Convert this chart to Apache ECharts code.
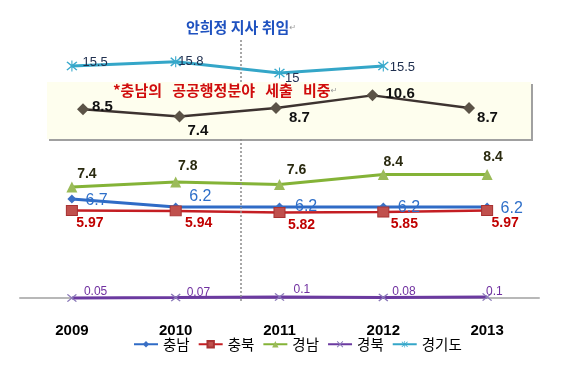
<!DOCTYPE html>
<html>
<head>
<meta charset="utf-8">
<script src="https://cdn.jsdelivr.net/npm/echarts@6/dist/echarts.min.js"></script>
<style>
html,body{margin:0;padding:0;background:#fff;}
#chart{width:567px;height:372px;}
</style>
</head>
<body>
<div id="chart"></div>
<script>
// ---------- data ----------
const years = ['2009', '2010', '2011', '2012', '2013'];
const chungnam = [6.7, 6.2, 6.2, 6.2, 6.2];          // 충남
const chungbuk = [5.97, 5.94, 5.82, 5.85, 5.97];     // 충북
const gyeongnam = [7.4, 7.8, 7.6, 8.4, 8.4];         // 경남
const gyeongbuk = [0.05, 0.07, 0.1, 0.08, 0.1];      // 경북
const gyeonggi = [15.5, 15.8, 15, 15.5, null];       // 경기도
const chungnamPublic = [8.5, 7.4, 8.7, 10.6, 8.7];   // 충남의 공공행정분야 세출 비중
const seriesNames = ['충남', '충북', '경남', '경북', '경기도'];
const titleText = '안희정 지사 취임';
const insetText = '*충남의   공공행정분야   세출   비중';
const inaugurationPos = 1.63; // between 2010 and 2011 (category index)

// ---------- styling (label nudges per point) ----------
const offs = {
  chungnam: [[6, 2], [6, -10], [8, 0], [7, 1], [6, 2]],
  chungbuk: [[18, 0], [23, 0], [22, 0], [21, 0], [18, 0]],
  gyeongnam: [[15, 2], [12, -1], [17, 0], [10, 2], [6, -3]],
  gyeongbuk: [[5, -6], [4, -5], [7, -7], [2, -6], [-8, -5]],
  gyeonggi: [[2, -4], [-6, 0], [-3, 5], [-2, 1], [0, 0]],
  public: [[0, -2], [-1, 14], [4, 10], [4, -2], [-1, 10]]
};
const X_PATH = 'path://M1,0L5,4L9,0L10,1L6,5L10,9L9,10L5,6L1,10L0,9L4,5L0,1Z';
const STAR_PATH = 'path://M1,0L4.5,3.5L4.5,-1L5.5,-1L5.5,3.5L9,0L10,1L6,5L10,9L9,10L5.5,6.5L5.5,11L4.5,11L4.5,6.5L1,10L0,9L4,5L0,1Z';

function pts(values, o) {
  return values.map((v, i) => v == null ? '-' : { value: v, label: { offset: o[i] } });
}

const chart = echarts.init(document.getElementById('chart'), null, { renderer: 'canvas' });

const option = {
  animation: false,
  backgroundColor: '#ffffff',
  title: [
    {
      text: titleText + '{r|↵}',
      left: 186, top: 20, padding: 0,
      textStyle: {
        color: '#1f52c0', fontSize: 15, fontWeight: 'bold', fontFamily: 'Noto Sans CJK KR',
        rich: { r: { fontSize: 8, color: '#999', fontWeight: 'normal', fontFamily: 'DejaVu Sans' } }
      }
    },
    {
      text: insetText + '{r|↵}',
      left: 113, top: 83, padding: 0,
      textStyle: {
        color: '#d00c0c', fontSize: 15, fontWeight: 'bold', fontFamily: 'Noto Sans CJK KR',
        rich: { r: { fontSize: 8, color: '#999', fontWeight: 'normal', fontFamily: 'DejaVu Sans' } }
      }
    }
  ],
  legend: {
    data: seriesNames,
    left: 133, top: 337, padding: 0,
    itemWidth: 24, itemHeight: 8, itemGap: 8,
    textStyle: { color: '#000', fontSize: 14.5, fontFamily: 'Noto Sans CJK KR' }
  },
  grid: { left: 20, right: 28, top: 40, bottom: 68, containLabel: false },
  xAxis: [
    {
      type: 'category', data: years, boundaryGap: true,
      axisLine: { show: true, onZero: true, onZeroAxisIndex: 6, lineStyle: { color: '#b8b8b8', width: 2 } },
      axisTick: { show: false },
      axisLabel: { margin: 19, color: '#000', fontSize: 15, fontWeight: 'bold', fontFamily: 'Liberation Sans' },
      splitLine: { show: false }
    },
    { type: 'value', min: -0.653, max: 4.725, show: false, splitLine: { show: false } },
    { type: 'value', min: -0.5, max: 4.5, show: false, splitLine: { show: false } }
  ],
  yAxis: [
    { type: 'value', min: -1.5, max: 17.357, show: false },      // 0 경기도
    { type: 'value', min: 0.1375, max: 16.6375, show: false },   // 1 충남
    { type: 'value', min: -1.222, max: 19.085, show: false },    // 2 충북
    { type: 'value', min: -1.96, max: 19.16, show: false },      // 3 경남
    { type: 'value', min: -0.25, max: 12.95, show: false },      // 4 경북
    { type: 'value', min: -21.01, max: 18.99, show: false },     // 5 inset
    { type: 'value', min: -6, max: 258, show: false }            // 6 annotation
  ].map(a => Object.assign(a, { splitLine: { show: false } })),
  series: [
    {
      name: '충남', type: 'line', yAxisIndex: 1, clip: false,
      data: pts(chungnam, offs.chungnam),
      symbol: 'diamond', symbolSize: 9, showAllSymbol: true,
      lineStyle: { color: '#2f6bc6', width: 3 },
      itemStyle: { color: '#3a6fc4' },
      label: { show: true, position: 'right', distance: 3, color: '#2e6fc9', fontSize: 16, fontFamily: 'Liberation Sans' }
    },
    {
      name: '충북', type: 'line', yAxisIndex: 2, clip: false,
      data: pts(chungbuk, offs.chungbuk),
      symbol: 'rect', symbolSize: [11, 10],
      lineStyle: { color: '#c41e23', width: 2.5 },
      itemStyle: { color: '#c0504d', borderColor: '#a83232', borderWidth: 1 },
      label: { show: true, position: 'bottom', distance: 0, color: '#c00000', fontSize: 14, fontWeight: 'bold', fontFamily: 'Liberation Sans' }
    },
    {
      name: '경남', type: 'line', yAxisIndex: 3, clip: false,
      data: pts(gyeongnam, offs.gyeongnam),
      symbol: 'triangle', symbolSize: 11,
      lineStyle: { color: '#84b337', width: 3 },
      itemStyle: { color: '#9bbb59' },
      label: { show: true, position: 'top', distance: 2, color: '#2a2a10', fontSize: 14, fontWeight: 'bold', fontFamily: 'Liberation Sans' }
    },
    {
      name: '경북', type: 'line', yAxisIndex: 4, clip: false,
      data: pts(gyeongbuk, offs.gyeongbuk),
      symbol: X_PATH, symbolSize: [10, 8],
      lineStyle: { color: '#6b3aa0', width: 3 },
      itemStyle: { color: '#8a78b8' },
      label: { show: true, position: 'right', distance: 2, color: '#7030a0', fontSize: 12, fontFamily: 'Liberation Sans' }
    },
    {
      name: '경기도', type: 'line', yAxisIndex: 0, clip: false,
      data: pts(gyeonggi, offs.gyeonggi),
      symbol: STAR_PATH, symbolSize: [11, 11],
      lineStyle: { color: '#34a6c8', width: 3 },
      itemStyle: { color: '#38a9cc' },
      label: { show: true, position: 'right', distance: 3, color: '#203050', fontSize: 13, fontFamily: 'Liberation Sans' }
    },
    {
      name: '충남 공공행정분야 세출 비중', type: 'line', xAxisIndex: 1, yAxisIndex: 5, clip: false,
      data: chungnamPublic.map((v, i) => ({ value: [i, v], label: { offset: offs.public[i] } })),
      symbol: 'diamond', symbolSize: 12,
      lineStyle: { color: '#3d3330', width: 2.5 },
      itemStyle: { color: '#5b5347' },
      label: { show: true, position: 'right', distance: 3, color: '#111', fontSize: 15, fontWeight: 'bold', fontFamily: 'Liberation Sans',
        formatter: p => String(p.value[1]) },
      markArea: {
        silent: true,
        itemStyle: { color: '#fefeee', shadowColor: '#a0a0a0', shadowOffsetX: 2, shadowOffsetY: 2, shadowBlur: 0 },
        data: [[{ xAxis: -0.373, yAxis: 12.627 }, { xAxis: 4.642, yAxis: 3.991 }]]
      }
    },
    {
      name: 'annotation', type: 'line', xAxisIndex: 2, yAxisIndex: 6, clip: false,
      data: [[inaugurationPos, 0]], symbol: 'none', lineStyle: { opacity: 0 }, silent: true,
      markLine: {
        silent: true, symbol: 'none', label: { show: false },
        lineStyle: { color: '#8a8a8a', width: 1.5, type: [2, 2] },
        data: [
          [{ xAxis: inaugurationPos, yAxis: 258 }, { xAxis: inaugurationPos, yAxis: 216 }],
          [{ xAxis: inaugurationPos, yAxis: 159 }, { xAxis: inaugurationPos, yAxis: -5 }]
        ]
      }
    }
  ]
};
chart.setOption(option);
</script>
</body>
</html>
